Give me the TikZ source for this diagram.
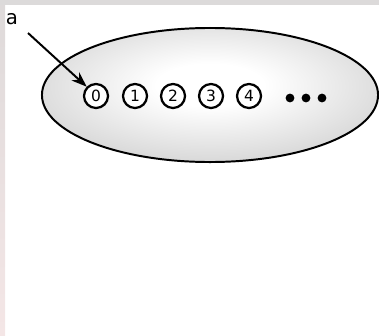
\documentclass[tikz,border=0pt]{standalone}
\usepackage{fontspec}
\setmainfont{DejaVu Sans}
\usepackage{xcolor}
\usetikzlibrary{arrows.meta,positioning,shapes.geometric}

\definecolor{topbar}{RGB}{220,218,218}
\definecolor{sidetop}{RGB}{222,218,218}
\definecolor{sidebot}{RGB}{244,230,230}
\pgfdeclareradialshading{ovalshade}{\pgfpoint{0bp}{4bp}}{color(0bp)=(white); color(8bp)=(white); color(50bp)=(black!32); color(100bp)=(black!32)}

\begin{document}
\begin{tikzpicture}[
    x=0.025cm, y=-0.025cm,
    every node/.style={font=\small},
    set/.style={ellipse, draw=black, line width=1.4pt, shading=ovalshade, minimum width=8.4cm, minimum height=3.35cm},
    slot/.style={circle, draw=black, line width=1.6pt, fill=white, minimum size=0.6cm, inner sep=0pt, font=\fontsize{11}{12}\selectfont},
    dot/.style={circle, fill=black, minimum size=0.22cm, inner sep=0pt},
    ptr/.style={-{Stealth[length=11pt,width=8pt]}, line width=1.4pt}
    ]
    \useasboundingbox (0,0) rectangle (379,335);
    \fill[topbar] (0,0) rectangle (379,5);
    \shade[top color=sidetop, bottom color=sidebot] (0,5) rectangle (5,335);

    \node[set] (oval) at (210,95) {};

    \node[slot] (c0) at (96,96) {0};
    \node[slot] (c1) at (135,96) {1};
    \node[slot] (c2) at (173,96) {2};
    \node[slot] (c3) at (211,96) {3};
    \node[slot] (c4) at (249,96) {4};

    \node[dot] (d1) at (290,98) {};
    \node[dot] (d2) at (306,98) {};
    \node[dot] (d3) at (322,98) {};

    \node[font=\fontsize{14}{15}\selectfont] (a) at (12,19) {a};
    \coordinate (tail) at (28,33);
    \draw[ptr] (tail) -- (c0.north west);
\end{tikzpicture}
\end{document}
